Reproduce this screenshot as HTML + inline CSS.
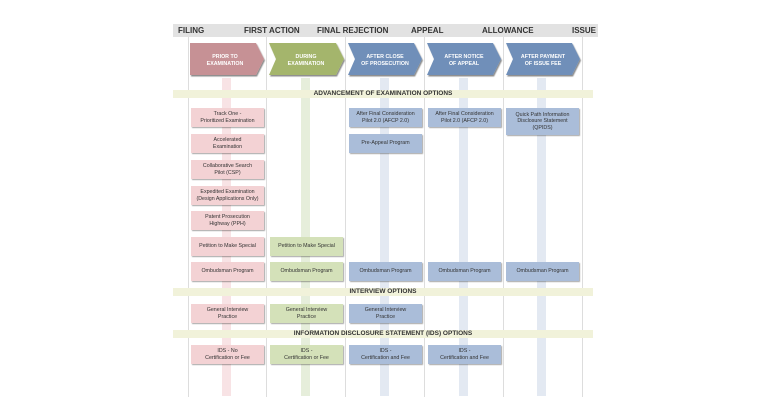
<!DOCTYPE html>
<html><head><style>
body{margin:0;width:768px;height:400px;background:#fff;position:relative;overflow:hidden;font-family:"Liberation Sans",sans-serif}
div{position:absolute;box-sizing:border-box}
.hdr{left:173px;top:24px;width:425px;height:13px;background:#e2e2e2}
.ht{top:24px;height:13px;line-height:13px;font-size:8px;font-weight:bold;color:#333}
.vl{top:37px;width:1px;height:360px;background:#ddd}
.st{top:78px;width:9px;height:318px}
.bar{left:173px;width:420px;height:8px;background:#f1f2da;font-size:6.5px;font-weight:bold;color:#333;text-align:center;line-height:8px}
.b{width:73px;font-size:5.3px;color:#333;text-align:center;display:flex;align-items:center;justify-content:center;line-height:1.25;box-shadow:1px 1px 1px rgba(0,0,0,.35)}
.p{background:#f3d2d4}.g{background:#d4e1b9}.u{background:#aabdd9}
</style></head><body>
<div class="hdr"></div>
<div class="ht" style="left:178px">FILING</div>
<div class="ht" style="left:244px">FIRST ACTION</div>
<div class="ht" style="left:317px">FINAL REJECTION</div>
<div class="ht" style="left:411px">APPEAL</div>
<div class="ht" style="left:482px">ALLOWANCE</div>
<div class="ht" style="left:572px">ISSUE</div>
<div class="vl" style="left:188px"></div><div class="vl" style="left:266px"></div><div class="vl" style="left:345px"></div><div class="vl" style="left:424px"></div><div class="vl" style="left:503px"></div><div class="vl" style="left:582px"></div>
<div class="st" style="left:222px;background:#f8e3e5"></div>
<div class="st" style="left:301px;background:#e6eedb"></div>
<div class="st" style="left:380px;background:#e3e9f2"></div>
<div class="st" style="left:459px;background:#e3e9f2"></div>
<div class="st" style="left:537px;background:#e3e9f2"></div>
<svg style="position:absolute;left:0;top:0" width="768" height="400">
<defs><filter id="s"><feDropShadow dx="1" dy="1.5" stdDeviation="0.6" flood-opacity="0.45"/></filter></defs>
<g filter="url(#s)" font-family="Liberation Sans" font-size="5.3" font-weight="bold" fill="#fff" text-anchor="middle">
<polygon points="190,43 256,43 264,59 256,75 190,75" fill="#c69195"/>
<polygon points="269,43 336,43 344,59 336,75 269,75 276,59" fill="#a4b56c"/>
<polygon points="348,43 414,43 422,59 414,75 348,75 355,59" fill="#6f8fb9"/>
<polygon points="427,43 493,43 501,59 493,75 427,75 434,59" fill="#6f8fb9"/>
<polygon points="506,43 572,43 580,59 572,75 506,75 513,59" fill="#6f8fb9"/>
</g>
<g font-family="Liberation Sans" font-size="5.3" font-weight="bold" fill="#fff" text-anchor="middle">
<text x="225" y="58">PRIOR TO</text><text x="225" y="65">EXAMINATION</text>
<text x="306" y="58">DURING</text><text x="306" y="65">EXAMINATION</text>
<text x="385" y="58">AFTER CLOSE</text><text x="385" y="65">OF PROSECUTION</text>
<text x="464" y="58">AFTER NOTICE</text><text x="464" y="65">OF APPEAL</text>
<text x="543" y="58">AFTER PAYMENT</text><text x="543" y="65">OF ISSUE FEE</text>
</g></svg>
<div class="bar" style="top:90px">ADVANCEMENT OF EXAMINATION OPTIONS</div>
<div class="bar" style="top:288px">INTERVIEW OPTIONS</div>
<div class="bar" style="top:330px">INFORMATION DISCLOSURE STATEMENT (IDS) OPTIONS</div>

<div class="b p" style="left:191px;top:108px;height:19px">Track One -<br>Prioritized Examination</div>
<div class="b p" style="left:191px;top:134px;height:19px">Accelerated<br>Examination</div>
<div class="b p" style="left:191px;top:160px;height:19px">Collaborative Search<br>Pilot (CSP)</div>
<div class="b p" style="left:191px;top:186px;height:19px">Expedited Examination<br>(Design Applications Only)</div>
<div class="b p" style="left:191px;top:211px;height:19px">Patent Prosecution<br>Highway (PPH)</div>
<div class="b p" style="left:191px;top:237px;height:19px">Petition to Make Special</div>
<div class="b g" style="left:270px;top:237px;height:19px">Petition to Make Special</div>
<div class="b u" style="left:349px;top:108px;height:19px">After Final Consideration<br>Pilot 2.0 (AFCP 2.0)</div>
<div class="b u" style="left:349px;top:134px;height:19px">Pre-Appeal Program</div>
<div class="b u" style="left:428px;top:108px;height:19px">After Final Consideration<br>Pilot 2.0 (AFCP 2.0)</div>
<div class="b u" style="left:506px;top:108px;height:27px">Quick Path Information<br>Disclosure Statement<br>(QPIDS)</div>

<div class="b p" style="left:191px;top:262px;height:19px">Ombudsman Program</div>
<div class="b g" style="left:270px;top:262px;height:19px">Ombudsman Program</div>
<div class="b u" style="left:349px;top:262px;height:19px">Ombudsman Program</div>
<div class="b u" style="left:428px;top:262px;height:19px">Ombudsman Program</div>
<div class="b u" style="left:506px;top:262px;height:19px">Ombudsman Program</div>

<div class="b p" style="left:191px;top:304px;height:19px">General Interview<br>Practice</div>
<div class="b g" style="left:270px;top:304px;height:19px">General Interview<br>Practice</div>
<div class="b u" style="left:349px;top:304px;height:19px">General Interview<br>Practice</div>

<div class="b p" style="left:191px;top:345px;height:19px">IDS - No<br>Certification or Fee</div>
<div class="b g" style="left:270px;top:345px;height:19px">IDS -<br>Certification or Fee</div>
<div class="b u" style="left:349px;top:345px;height:19px">IDS -<br>Certification and Fee</div>
<div class="b u" style="left:428px;top:345px;height:19px">IDS -<br>Certification and Fee</div>
</body></html>
